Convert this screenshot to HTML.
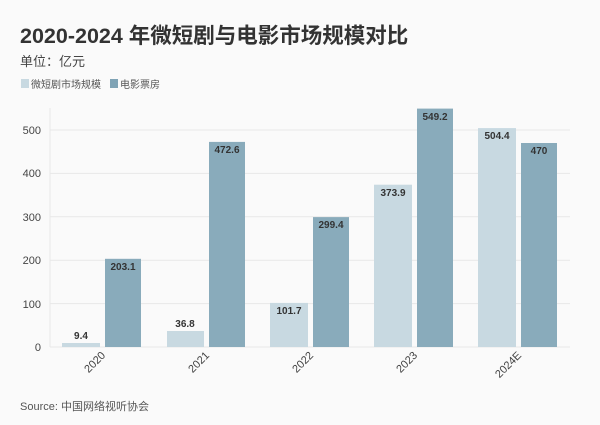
<!DOCTYPE html><html><head><meta charset="utf-8"><style>
body{margin:0;width:600px;height:420px;background:#fafafa;font-family:"Liberation Sans","Noto Sans CJK SC",sans-serif;overflow:hidden}
</style></head><body>
<svg width="600" height="420" xmlns="http://www.w3.org/2000/svg" font-family="Liberation Sans, Noto Sans CJK SC, sans-serif">
<text x="20" y="43" font-size="21.5" font-weight="bold" fill="#333">2020-2024 年微短剧与电影市场规模对比</text>
<text x="20" y="66" font-size="13" fill="#444">单位：亿元</text>
<rect x="21" y="79" width="8" height="9" fill="#c8d9e1"/><text x="31" y="88" font-size="10" fill="#555">微短剧市场规模</text>
<rect x="110" y="79" width="8" height="9" fill="#7fa3b5"/><text x="120" y="88" font-size="10" fill="#555">电影票房</text>
<g stroke="#e8e8e8" stroke-width="1">
<line x1="50" y1="130" x2="570" y2="130"/><line x1="50" y1="173.4" x2="570" y2="173.4"/><line x1="50" y1="216.8" x2="570" y2="216.8"/><line x1="50" y1="260.2" x2="570" y2="260.2"/><line x1="50" y1="303.6" x2="570" y2="303.6"/><line x1="50" y1="347" x2="570" y2="347"/>
<line x1="50" y1="108" x2="50" y2="347"/>
</g>
<g font-size="11" fill="#444" text-anchor="end">
<text x="41" y="134">500</text><text x="41" y="177">400</text><text x="41" y="221">300</text><text x="41" y="264">200</text><text x="41" y="308">100</text><text x="41" y="351">0</text>
</g>
<g>
<rect x="62" y="343" width="38" height="4" fill="#c8d9e1"/><rect x="105" y="258.8" width="36" height="88.2" fill="#89abbb"/>
<rect x="167" y="331" width="37" height="16" fill="#c8d9e1"/><rect x="209" y="141.9" width="36" height="205.1" fill="#89abbb"/>
<rect x="270" y="302.9" width="38" height="44.1" fill="#c8d9e1"/><rect x="313" y="217.1" width="36" height="129.9" fill="#89abbb"/>
<rect x="374" y="184.7" width="38" height="162.3" fill="#c8d9e1"/><rect x="417" y="108.6" width="36" height="238.4" fill="#89abbb"/>
<rect x="478" y="128.1" width="38" height="218.9" fill="#c8d9e1"/><rect x="521" y="143" width="36" height="204" fill="#89abbb"/>
</g>
<g font-size="10" font-weight="bold" fill="#333" text-anchor="middle">
<text x="81" y="339">9.4</text><text x="123" y="270">203.1</text>
<text x="185" y="327">36.8</text><text x="227" y="153">472.6</text>
<text x="289" y="314">101.7</text><text x="331" y="228">299.4</text>
<text x="393" y="196">373.9</text><text x="435" y="120">549.2</text>
<text x="497" y="139">504.4</text><text x="539" y="154">470</text>
</g>
<g font-size="11" fill="#444" text-anchor="end">
<text transform="translate(106,356) rotate(-45)">2020</text>
<text transform="translate(210,356) rotate(-45)">2021</text>
<text transform="translate(314,356) rotate(-45)">2022</text>
<text transform="translate(418,356) rotate(-45)">2023</text>
<text transform="translate(522,356) rotate(-45)">2024E</text>
</g>
<text x="20" y="410" font-size="11" fill="#555">Source: 中国网络视听协会</text>
</svg>
</body></html>
